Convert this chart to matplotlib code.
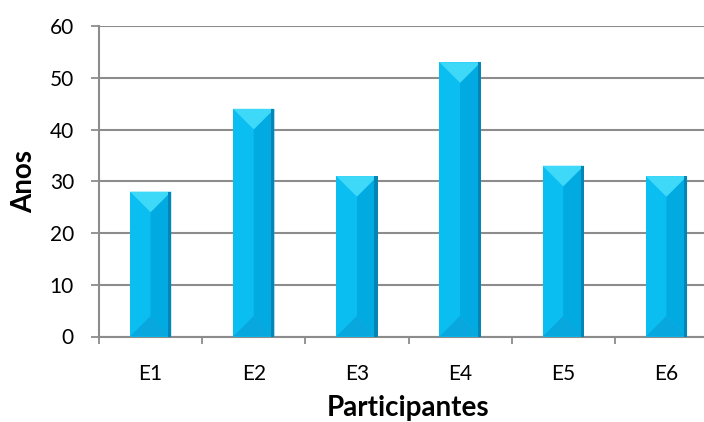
import numpy as np
import matplotlib
matplotlib.use("Agg")
import matplotlib.pyplot as plt
from matplotlib.patches import Polygon

# Data
participantes = ["E1", "E2", "E3", "E4", "E5", "E6"]
anos = [28, 44, 31, 53, 33, 31]

plt.rcParams['font.family'] = ['Lato', 'DejaVu Sans']

fig = plt.figure(figsize=(7.04, 4.22), dpi=100)
# axes runs a little past the right edge, like the original (cropped) chart
ax = fig.add_axes([99 / 704, 1 - 336.5 / 422, 619 / 704, 310.5 / 422])

x = np.arange(len(participantes))
bar_w = 0.40
bars = ax.bar(x, anos, width=bar_w, color="#0BBEF2", edgecolor="none", zorder=3)

ax.set_xlim(-0.5, len(participantes) - 0.5)
ax.set_ylim(0, 60)

# bevel depth in data units so the facets are at 45 degrees
px_per_x = ax.get_position().width * 704 / (len(participantes))
px_per_y = ax.get_position().height * 422 / 60
half_px = bar_w / 2 * px_per_x
d = half_px / px_per_y

for b in bars:
    x0 = b.get_x()
    x1 = x0 + b.get_width()
    xc = (x0 + x1) / 2
    h = b.get_height()
    # right half darker
    ax.add_patch(Polygon([(xc, d), (x1, 0), (x1, h), (xc, h - d)],
                         closed=True, color="#02AAE2", lw=0, zorder=4))
    # top facet (light)
    ax.add_patch(Polygon([(x0, h), (x1, h), (xc, h - d)],
                         closed=True, color="#3ED8F8", lw=0, zorder=5))
    # bottom facet (slightly darker)
    ax.add_patch(Polygon([(x0, 0), (x1, 0), (xc, d)],
                         closed=True, color="#08A8DE", lw=0, zorder=5))
    # dark right edge
    edge = 0.03
    ax.add_patch(Polygon([(x1 - edge, 0), (x1, 0), (x1, h), (x1 - edge, h)],
                         closed=True, color="#0485B5", lw=0, zorder=6))

ax.set_yticks(np.arange(0, 61, 10))
ax.yaxis.grid(True, color="#8C8C8C", linewidth=1.5, zorder=0)
ax.set_axisbelow(True)

ax.set_xticks(x)
ax.set_xticklabels(participantes)
ax.set_xticks(np.arange(-0.5, len(participantes), 1), minor=True)
ax.tick_params(axis="x", which="major", length=0, pad=20, labelsize=15)
ax.tick_params(axis="x", which="minor", length=5, width=1.3, color="#8C8C8C")
ax.tick_params(axis="y", length=6, width=1.3, color="#8C8C8C", labelsize=15, pad=12)

for s in ["top", "right"]:
    ax.spines[s].set_visible(False)
for s in ["left", "bottom"]:
    ax.spines[s].set_color("#8C8C8C")
    ax.spines[s].set_linewidth(1.5)

ax.set_xlabel("Participantes", fontsize=20, fontweight="bold", labelpad=8)
ax.set_ylabel("Anos", fontsize=20, fontweight="bold", labelpad=9)

fig.savefig("out.png", dpi=100)
